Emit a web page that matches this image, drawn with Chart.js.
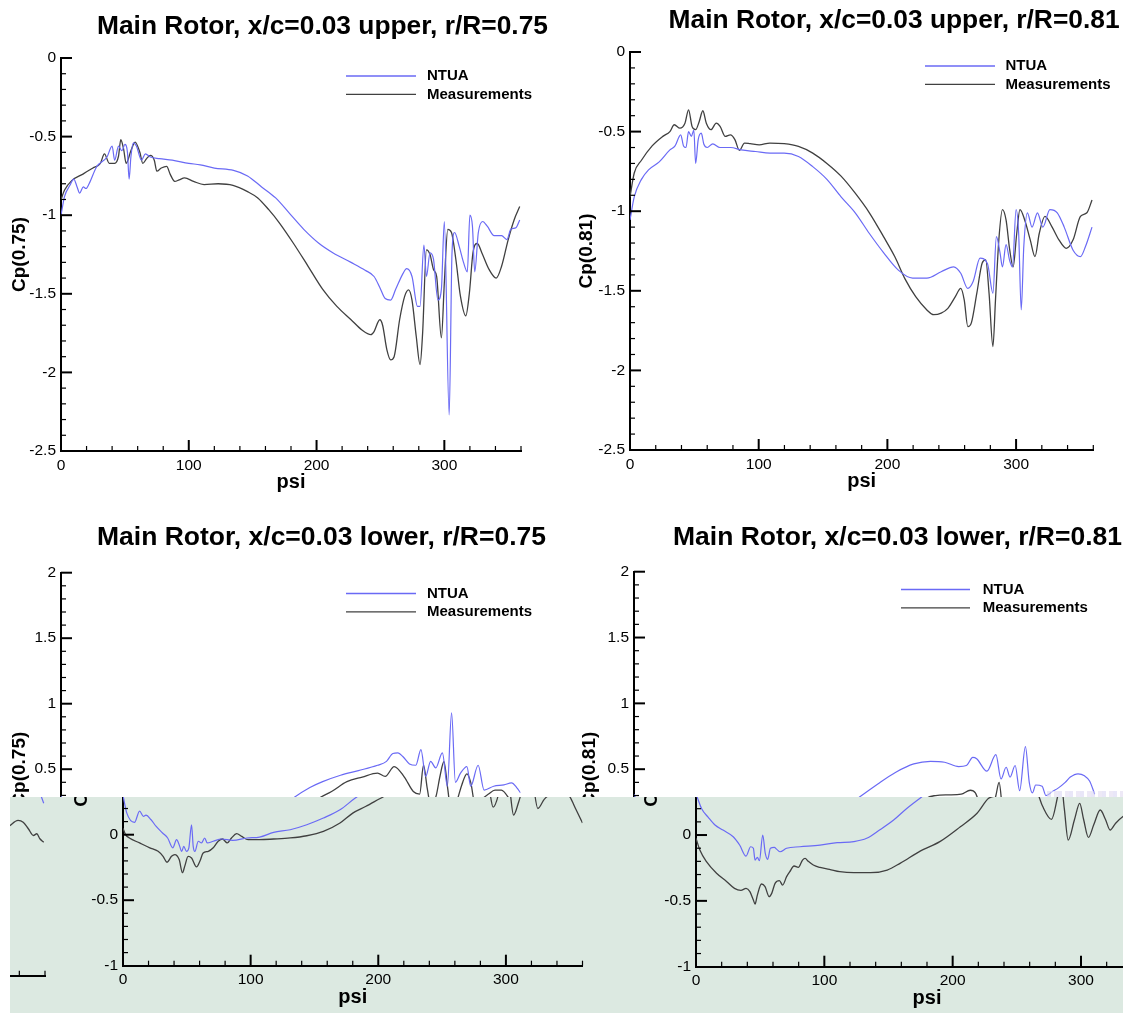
<!DOCTYPE html>
<html>
<head>
<meta charset="utf-8">
<script src="https://cdn.jsdelivr.net/npm/chart.js@4.4.1/dist/chart.umd.min.js"></script>
<style>
  html, body { margin: 0; padding: 0; background: #fff; }
  body { width: 1131px; height: 1013px; position: relative; overflow: hidden; }
  canvas { position: absolute; }
  #band { position: absolute; left: 10px; top: 797px; width: 1113px; height: 216px; overflow: hidden; background: #dce9e1; }
  #noise { position: absolute; left: 1047px; top: 791px; width: 76px; height: 6px;
    background: repeating-linear-gradient(90deg, rgba(214,210,242,.55) 0 4px, rgba(255,255,255,.5) 4px 7px, rgba(225,218,240,.6) 7px 11px); }
</style>
</head>
<body>
<canvas id="ul" width="562" height="500" style="left:0;top:0"></canvas>
<canvas id="ur" width="566" height="500" style="left:565px;top:0"></canvas>
<canvas id="ll" width="562" height="513" style="left:0;top:500px"></canvas>
<canvas id="lr" width="566" height="513" style="left:565px;top:500px"></canvas>
<div id="band">
  <canvas id="llBand" width="562" height="513" style="left:52px;top:-297px"></canvas>
  <canvas id="lrBand" width="566" height="513" style="left:617px;top:-297px"></canvas>
  <canvas id="lrWrap" width="566" height="513" style="left:-496px;top:-288px"></canvas>
</div>
<div id="noise"></div>
<script>
// ---- data: [psi, Cp] ----
const ulNtua = [[0,-1.0],[2.8,-0.88],[7,-0.81],[10,-0.77],[12.6,-0.82],[14.6,-0.86],[17.4,-0.82],[19.6,-0.83],[22,-0.80],[28,-0.69],[36,-0.63],[40,-0.56],[42,-0.65],[45,-0.56],[47.7,-0.59],[50,-0.55],[52,-0.60],[53.3,-0.77],[54.7,-0.63],[56.6,-0.54],[59,-0.56],[63,-0.65],[66,-0.61],[70,-0.63],[77,-0.64],[87,-0.65],[100,-0.67],[109,-0.68],[120,-0.70],[135,-0.715],[146,-0.75],[157,-0.82],[168,-0.89],[179,-0.99],[190,-1.09],[202,-1.18],[213,-1.24],[227,-1.30],[238,-1.35],[245,-1.39],[249.5,-1.46],[253.7,-1.53],[258,-1.54],[262,-1.47],[267.7,-1.37],[270.5,-1.34],[274.7,-1.39],[279,-1.58],[281,-1.58],[284,-1.19],[286,-1.39],[288.8,-1.24],[291.5,-1.28],[295,-1.54],[297.7,-1.47],[300,-1.04],[303.8,-2.27],[306,-1.24],[308,-1.11],[311.7,-1.20],[315,-1.30],[318,-1.36],[320,-1.00],[322,-1.07],[323.8,-1.36],[326.6,-1.11],[330,-1.04],[333.6,-1.07],[339,-1.13],[344.8,-1.13],[349,-1.155],[352,-1.09],[356,-1.08],[359,-1.03]];
const ulMeas = [[0,-0.90],[2.8,-0.84],[8.4,-0.78],[16.8,-0.74],[25,-0.70],[30.8,-0.67],[34,-0.61],[37.8,-0.67],[42,-0.67],[45,-0.625],[46.8,-0.52],[49,-0.58],[51,-0.67],[54.7,-0.59],[58,-0.535],[61.7,-0.60],[64,-0.67],[67,-0.64],[70,-0.62],[73,-0.65],[75,-0.72],[78.5,-0.70],[82.7,-0.69],[85.5,-0.74],[89,-0.785],[92.5,-0.775],[96.7,-0.763],[103.7,-0.785],[112,-0.805],[123,-0.80],[134.6,-0.81],[146,-0.85],[154,-0.89],[162.6,-0.965],[171,-1.05],[182,-1.18],[193.4,-1.325],[204.7,-1.47],[215.9,-1.58],[227,-1.665],[235.5,-1.73],[242.5,-1.76],[245,-1.74],[249.5,-1.665],[251.7,-1.70],[255,-1.855],[258,-1.92],[260.7,-1.90],[265,-1.665],[269,-1.515],[272,-1.475],[274.7,-1.54],[278,-1.77],[281,-1.95],[283,-1.75],[286,-1.22],[288.8,-1.25],[291.5,-1.345],[294,-1.39],[297.7,-1.78],[300,-1.43],[302.7,-1.09],[305.6,-1.11],[309,-1.28],[312.6,-1.515],[316.8,-1.64],[319.6,-1.495],[322.4,-1.24],[325.8,-1.18],[329.4,-1.24],[335,-1.345],[340.6,-1.40],[344.8,-1.325],[350,-1.155],[354.6,-1.03],[359,-0.945]];

const urNtua = [[0,-1.055],[3.3,-0.91],[8.9,-0.80],[14.4,-0.74],[22.7,-0.69],[31,-0.615],[35,-0.59],[39.4,-0.52],[41.6,-0.59],[43.5,-0.60],[45.5,-0.50],[47.7,-0.53],[49.6,-0.49],[51,-0.70],[53,-0.55],[55.4,-0.51],[57.4,-0.58],[60,-0.60],[64.3,-0.577],[69.9,-0.60],[78.2,-0.60],[86.5,-0.615],[97.6,-0.625],[108.7,-0.635],[119.8,-0.635],[130.9,-0.656],[142,-0.72],[153,-0.80],[164,-0.91],[175,-1.01],[186,-1.14],[197,-1.26],[208.5,-1.37],[219.6,-1.42],[230.7,-1.42],[241.8,-1.38],[251.5,-1.35],[257,-1.39],[262.5,-1.485],[266.7,-1.44],[272,-1.295],[277.8,-1.33],[282,-1.515],[284.7,-1.16],[287.5,-1.26],[289.4,-1.35],[292.2,-1.21],[295,-1.31],[297.2,-1.35],[300,-0.99],[302,-1.14],[304,-1.62],[306,-1.22],[308.8,-1.01],[312.4,-1.10],[316.6,-1.01],[320.8,-1.10],[326.3,-0.99],[332,-1.01],[337.4,-1.10],[344.3,-1.245],[350,-1.285],[354,-1.22],[359,-1.10]];
const urMeas = [[0,-0.91],[3.3,-0.76],[8.9,-0.68],[17.2,-0.59],[25.5,-0.53],[31,-0.50],[34.4,-0.457],[38.8,-0.478],[42.7,-0.447],[45.5,-0.363],[48.2,-0.467],[51,-0.488],[53.8,-0.436],[56.6,-0.369],[59.3,-0.447],[63,-0.488],[67,-0.447],[70,-0.467],[74,-0.53],[78,-0.52],[81.5,-0.55],[85,-0.618],[89,-0.572],[93.4,-0.576],[100.4,-0.583],[108.7,-0.572],[119.8,-0.576],[130.9,-0.593],[142,-0.635],[153,-0.70],[164,-0.78],[175,-0.887],[186,-1.01],[197,-1.16],[205.7,-1.285],[214,-1.43],[222,-1.537],[230.7,-1.62],[236,-1.65],[241.8,-1.64],[247,-1.61],[252.8,-1.537],[257,-1.485],[259.7,-1.557],[262.5,-1.725],[265.3,-1.70],[269.5,-1.515],[273.6,-1.327],[276.4,-1.306],[279,-1.515],[282,-1.85],[284,-1.557],[286.6,-1.18],[289.4,-0.99],[292.2,-1.055],[295,-1.24],[297.7,-1.35],[300.5,-1.14],[303,-0.99],[306.7,-1.055],[311,-1.18],[314.7,-1.285],[318,-1.14],[322.4,-1.033],[328,-1.10],[333.3,-1.18],[339,-1.233],[344.3,-1.18],[350,-1.033],[355,-1.01],[359,-0.93]];

const llNtua = [[0,0.30],[3,0.165],[9,0.094],[13,0.18],[16,0.14],[18,0.15],[22,0.114],[26,0.063],[31,0.013],[35,-0.025],[39,-0.10],[42,-0.038],[44,-0.076],[46,-0.127],[47.6,-0.089],[49.7,-0.127],[51.6,-0.10],[53.7,0.076],[55,-0.089],[56.3,-0.127],[59,-0.05],[61.5,-0.063],[64,-0.025],[66,-0.063],[70.7,-0.05],[77,-0.033],[86,-0.043],[97,-0.025],[107,-0.018],[118,0.018],[131,0.038],[144,0.076],[157,0.127],[170,0.19],[182,0.28],[195,0.36],[205,0.405],[219,0.454],[233,0.489],[248,0.53],[255,0.56],[260,0.62],[264,0.625],[268,0.595],[273,0.54],[278,0.53],[282,0.649],[285.7,0.445],[289.6,0.56],[293.6,0.51],[298.8,0.625],[302.7,0.37],[306,0.93],[309,0.40],[313,0.47],[318,0.52],[321,0.37],[326.8,0.53],[331.5,0.34],[339,0.37],[347,0.38],[353,0.395],[357,0.36],[360,0.32]];
const llMeas = [[0,0.05],[2,0.0],[5,-0.025],[13,-0.063],[21,-0.10],[27.5,-0.127],[31.4,-0.165],[34.5,-0.21],[38,-0.165],[40.6,-0.152],[44,-0.19],[46.6,-0.29],[48.4,-0.24],[51,-0.165],[53.7,-0.178],[57.6,-0.246],[60.2,-0.203],[62.8,-0.14],[66.8,-0.127],[70.7,-0.10],[74.6,-0.05],[78,-0.033],[81.7,-0.063],[85,-0.025],[89,0.008],[93,-0.013],[98,-0.038],[107,-0.038],[118,-0.033],[131,-0.025],[144,-0.008],[157,0.025],[170,0.089],[180,0.165],[190,0.215],[204,0.29],[212,0.33],[224,0.405],[236,0.44],[248,0.47],[254,0.445],[261,0.52],[269,0.44],[276,0.33],[281,0.31],[284,0.53],[287,0.35],[290,0.21],[294,0.30],[297,0.45],[300,0.557],[303,0.35],[306,0.15],[310,0.25],[314,0.38],[318,0.465],[321,0.40],[325,0.20],[330,0.27],[335,0.31],[340,0.34],[345,0.34],[350,0.29],[355,0.19],[360,0.09]];

const lrNtua = [[0,0.31],[1,0.286],[4.4,0.20],[9.6,0.134],[14.8,0.076],[21,0.038],[29,-0.013],[34,-0.076],[39,-0.16],[42.6,-0.089],[44.7,-0.10],[46,-0.19],[47.8,-0.17],[49.4,-0.195],[52,0.0],[54,-0.14],[55.8,-0.185],[58,-0.10],[61,-0.094],[63,-0.109],[65.5,-0.127],[70.6,-0.10],[81,-0.089],[96.6,-0.076],[110,-0.058],[123,-0.05],[133,-0.025],[143,0.038],[154,0.114],[164,0.20],[176,0.29],[190,0.388],[204,0.477],[218,0.54],[231,0.56],[242,0.553],[253,0.52],[259,0.528],[264,0.59],[267,0.58],[275,0.485],[282,0.61],[286,0.426],[290,0.515],[293,0.44],[297,0.528],[300.5,0.337],[305,0.672],[308,0.40],[310.5,0.32],[313,0.38],[318,0.37],[321,0.30],[326,0.33],[331,0.36],[336,0.40],[340,0.44],[346,0.465],[351,0.45],[355,0.41],[359,0.31]];
const lrMeas = [[0,-0.025],[3,-0.114],[8,-0.20],[16,-0.29],[24,-0.354],[30,-0.405],[35,-0.42],[39,-0.405],[42,-0.43],[44.7,-0.494],[46,-0.524],[47.8,-0.456],[51,-0.372],[53.8,-0.392],[57,-0.468],[59,-0.443],[61.6,-0.367],[65,-0.347],[67.5,-0.38],[70.6,-0.316],[73,-0.28],[76.4,-0.235],[79.7,-0.246],[83,-0.19],[85,-0.177],[87.5,-0.20],[91.4,-0.228],[96.6,-0.246],[104,-0.26],[112,-0.278],[123,-0.286],[136,-0.286],[149,-0.266],[159,-0.215],[175,-0.12],[190,-0.05],[206,0.063],[219,0.165],[228,0.279],[235,0.30],[245,0.305],[255,0.31],[262,0.34],[266,0.32],[270,0.22],[277,0.119],[282,0.30],[284.5,0.40],[287,0.20],[290,-0.038],[295,0.12],[299,0.24],[302,0.12],[305.8,-0.018],[310,0.08],[315,0.19],[319,0.12],[322.7,0.038],[327,0.09],[332.7,0.14],[339,0.179],[343,0.166],[347,0.116],[351,0.065],[353.6,0.078],[356,0.04],[359,0.014]];

const seriesLabels = ['NTUA', 'Measurements'];
const seriesColors = ['#6a6af5', '#404040'];
const psiRange = [0, 360];
const upperCpRange = [-2.5, 0];
const lowerCpRange = [-1, 2];

const FONT = '"Liberation Sans", Arial, Helvetica, sans-serif';
const Y_W = 40, X_H = 30;
Chart.defaults.font.family = FONT;

// inward Tecplot style ticks, title, legend, axis titles
const panelDecor = {
  id: 'panelDecor',
  afterDraw(chart, args, o) {
    const { ctx, chartArea: a } = chart;
    const x = chart.scales.x, y = chart.scales.y;
    ctx.save();
    ctx.strokeStyle = '#000';
    for (let v = psiRange[0] + 20; v <= psiRange[1]; v += 20) {
      const px = x.getPixelForValue(v), major = v % 100 === 0;
      ctx.lineWidth = major ? 2 : 1.2;
      ctx.beginPath(); ctx.moveTo(px, a.bottom); ctx.lineTo(px, a.bottom - (major ? 11 : 5)); ctx.stroke();
    }
    for (let i = 1; ; i++) {
      const v = y.min + i * 0.1;
      if (v > y.max + 1e-6) break;
      const py = y.getPixelForValue(v);
      const major = Math.abs(v * 2 - Math.round(v * 2)) < 1e-6;
      ctx.lineWidth = major ? 2 : 1.2;
      ctx.beginPath(); ctx.moveTo(a.left, py); ctx.lineTo(a.left + (major ? 11 : 5), py); ctx.stroke();
    }

    ctx.fillStyle = '#000';
    // title fitted to its width in the figure
    ctx.font = 'bold 26px ' + FONT;
    const fs = 26 * o.titleW / ctx.measureText(o.title).width;
    ctx.font = 'bold ' + fs.toFixed(2) + 'px ' + FONT;
    ctx.textAlign = 'left'; ctx.textBaseline = 'alphabetic';
    ctx.fillText(o.title, o.titleX, o.titleY);

    // legend
    ctx.font = 'bold 15px ' + FONT;
    ctx.textBaseline = 'middle';
    chart.data.datasets.forEach((ds, i) => {
      const ly = o.legY + i * 18.4;
      ctx.strokeStyle = ds.borderColor; ctx.lineWidth = 1.4;
      ctx.beginPath(); ctx.moveTo(o.legX0, ly); ctx.lineTo(o.legX1, ly); ctx.stroke();
      ctx.fillText(ds.label, o.legTextX, ly);
    });

    // axis titles
    ctx.textAlign = 'center';
    ctx.textBaseline = 'alphabetic';
    ctx.font = 'bold 20px ' + FONT;
    ctx.fillText('psi', (a.left + a.right) / 2, a.bottom + 37);
    ctx.translate(o.yTitleX, (a.top + a.bottom) / 2);
    ctx.rotate(-Math.PI / 2);
    ctx.textBaseline = 'middle';
    ctx.font = 'bold 19px ' + FONT;
    ctx.fillText(o.yTitle, 0, 0);
    ctx.restore();
  }
};

const toPoints = arr => arr.map(([psi, cp]) => ({ x: psi, y: cp }));

function makePanel(canvasId, p) {
  const canvas = document.getElementById(canvasId);
  const tickFont = { family: FONT, size: 15.5 };
  return new Chart(canvas, {
    type: 'line',
    data: {
      datasets: [p.ntua, p.meas].map((d, i) => ({
        label: seriesLabels[i],
        data: toPoints(d),
        borderColor: seriesColors[i],
        borderWidth: i ? 1.3 : 1.2,
        pointRadius: 0,
        cubicInterpolationMode: 'monotone'
      }))
    },
    options: {
      responsive: false,
      animation: false,
      devicePixelRatio: 1,
      events: [],
      layout: {
        padding: {
          left: p.area[0] - Y_W,
          top: p.area[2],
          right: canvas.width - p.area[1],
          bottom: canvas.height - p.area[3] - X_H
        }
      },
      plugins: { legend: { display: false }, tooltip: { enabled: false }, panelDecor: p.text },
      scales: {
        x: {
          type: 'linear', min: psiRange[0], max: psiRange[1],
          afterFit: s => { s.height = X_H; },
          grid: { display: false, drawTicks: false },
          border: { display: true, color: '#000', width: 2 },
          ticks: { stepSize: 100, includeBounds: false, padding: 5, color: '#000', font: tickFont, maxRotation: 0, autoSkip: false }
        },
        y: {
          type: 'linear', min: p.cpRange[0], max: p.cpRange[1],
          afterFit: s => { s.width = Y_W; },
          grid: { display: false, drawTicks: false },
          border: { display: true, color: '#000', width: 2 },
          ticks: { stepSize: 0.5, padding: 5, color: '#000', font: tickFont, autoSkip: false,
            callback: v => String(Math.round(v * 10) / 10) }
        }
      }
    },
    plugins: [panelDecor]
  });
}

// area = [left, right, top, bottom] of the plot box inside each canvas
const ulPanel = { ntua: ulNtua, meas: ulMeas, cpRange: upperCpRange, area: [61, 521, 58, 451],
  text: { title: 'Main Rotor, x/c=0.03 upper, r/R=0.75', titleX: 97, titleY: 33.5, titleW: 451,
    legX0: 346, legX1: 416, legTextX: 427, legY: 76, yTitle: 'Cp(0.75)', yTitleX: 20 } };
const urPanel = { ntua: urNtua, meas: urMeas, cpRange: upperCpRange, area: [65, 528.3, 52, 450],
  text: { title: 'Main Rotor, x/c=0.03 upper, r/R=0.81', titleX: 103.6, titleY: 27.5, titleW: 451,
    legX0: 360, legX1: 430, legTextX: 440.5, legY: 66, yTitle: 'Cp(0.81)', yTitleX: 22 } };
const llPanel = { ntua: llNtua, meas: llMeas, cpRange: lowerCpRange, area: [61, 520.5, 72.7, 465.7],
  text: { title: 'Main Rotor, x/c=0.03 lower, r/R=0.75', titleX: 97, titleY: 45, titleW: 449,
    legX0: 346, legX1: 416, legTextX: 427, legY: 93.5, yTitle: 'Cp(0.75)', yTitleX: 20 } };
const lrPanel = { ntua: lrNtua, meas: lrMeas, cpRange: lowerCpRange, area: [69, 531, 71.7, 466.7],
  text: { title: 'Main Rotor, x/c=0.03 lower, r/R=0.81', titleX: 108, titleY: 45, titleW: 449,
    legX0: 336, legX1: 405, legTextX: 417.7, legY: 89.5, yTitle: 'Cp(0.81)', yTitleX: 25 } };

makePanel('ul', ulPanel);
makePanel('ur', urPanel);
makePanel('ll', llPanel);
makePanel('lr', lrPanel);
// shifted strip at the bottom of the figure
makePanel('llBand', llPanel);
makePanel('lrBand', lrPanel);
makePanel('lrWrap', lrPanel);
</script>
</body>
</html>
